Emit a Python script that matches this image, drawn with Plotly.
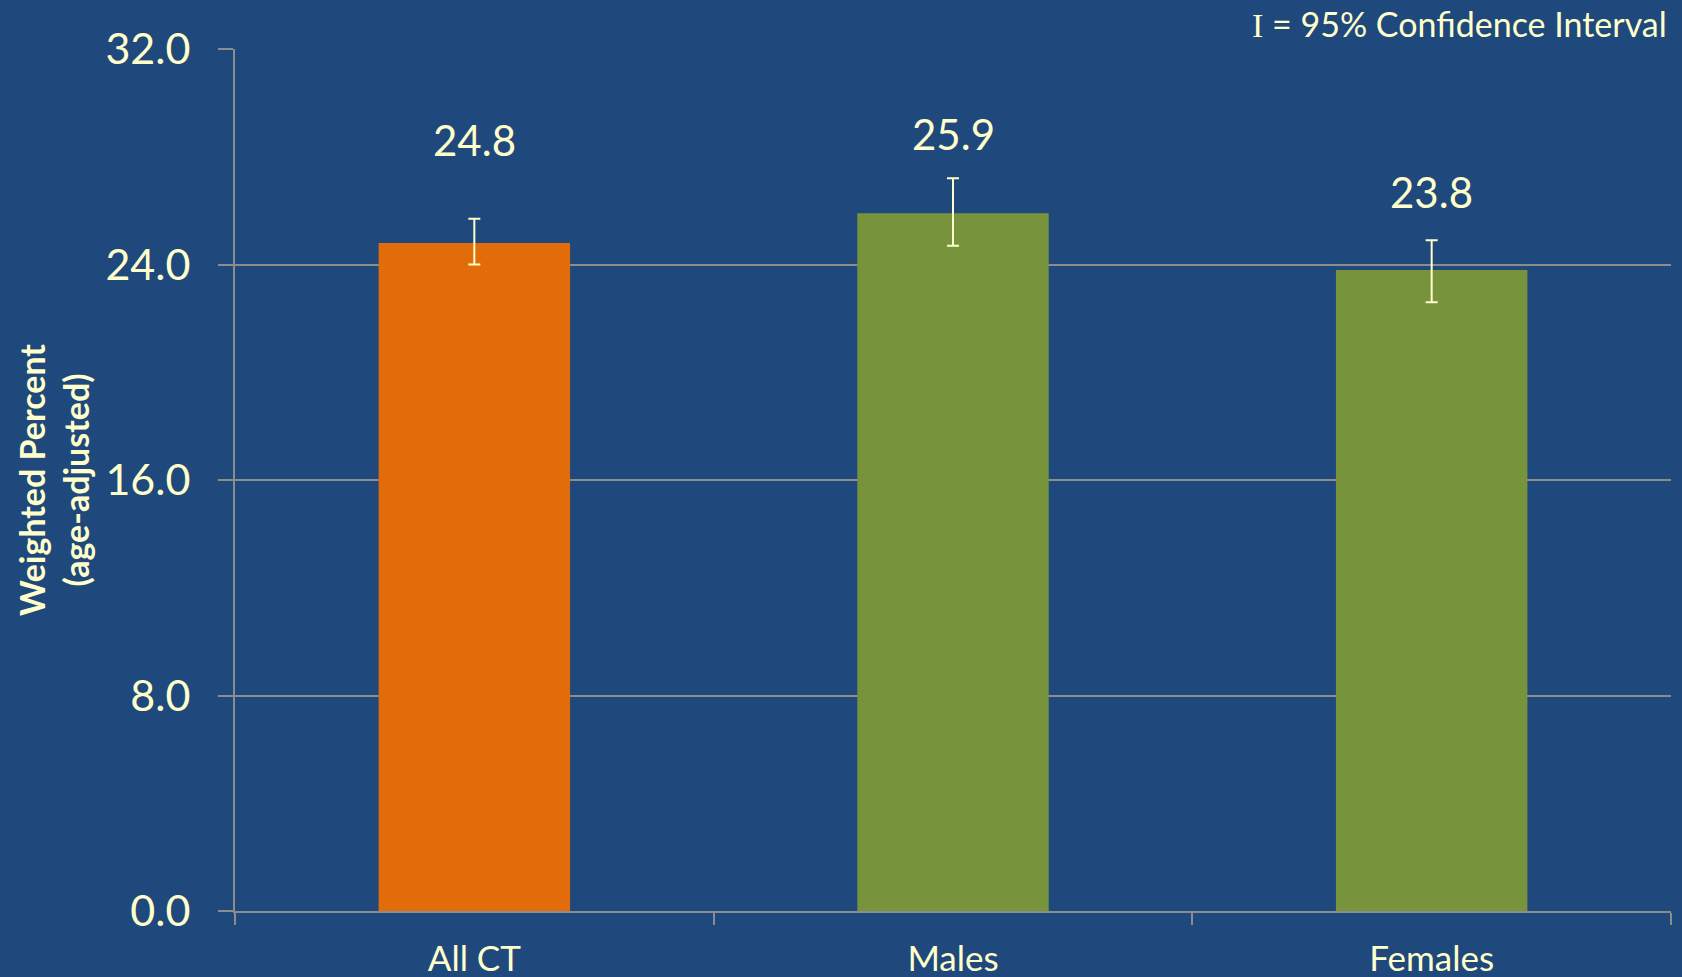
import plotly.graph_objects as go

categories = ["All CT", "Males", "Females"]
values = [24.8, 25.9, 23.8]
ci_low = [24.0, 24.7, 22.6]
ci_high = [25.7, 27.2, 24.9]
value_labels = ["24.8", "25.9", "23.8"]
y_ticks = [0, 8, 16, 24, 32]
y_tick_text = ["0.0", "8.0", "16.0", "24.0", "32.0"]

bar_colors = ["#E36C0A", "#77933C", "#77933C"]
label_shifts = [103, 79, 78]
BG = "#1F497D"
TXT = "#FFFFCC"
GRID = "#8C8C8C"
FONT = "Lato"

err_plus = [h - v for h, v in zip(ci_high, values)]
err_minus = [v - l for l, v in zip(ci_low, values)]

fig = go.Figure()
fig.add_trace(go.Bar(
    x=categories, y=values,
    marker=dict(color=bar_colors, line=dict(width=0)),
    error_y=dict(type="data", symmetric=False, array=err_plus, arrayminus=err_minus,
                 color=TXT, thickness=2, width=6),
    hoverinfo="skip",
))

for c, v, t, s in zip(categories, values, value_labels, label_shifts):
    fig.add_annotation(x=c, y=v, text=t, showarrow=False, yshift=s,
                       xanchor="center", yanchor="middle",
                       font=dict(family=FONT, size=42, color=TXT))

fig.add_annotation(
    xref="paper", yref="paper", x=0, y=0.5, xshift=-182,
    text="<b>Weighted Percent<br>(age-adjusted)</b>", textangle=-90,
    showarrow=False, xanchor="center", yanchor="middle",
    font=dict(family=FONT, size=34, color=TXT),
)

fig.add_annotation(
    xref="paper", yref="paper", x=1, y=1, xshift=-2, yshift=26,
    text='<span style="font-family:Liberation Serif">I</span> = 95% Confidence Interval',
    showarrow=False, xanchor="right", yanchor="middle",
    font=dict(family=FONT, size=34, color=TXT),
)

fig.update_layout(
    width=1682, height=977,
    paper_bgcolor=BG, plot_bgcolor=BG,
    margin=dict(l=235, r=11, t=49, b=66),
    bargap=0.6, showlegend=False,
    font=dict(family=FONT, color=TXT),
)
fig.update_xaxes(
    type="category", showgrid=False, showline=True, linecolor=GRID, linewidth=2,
    ticks="outside", tickson="boundaries", ticklen=12, tickcolor=GRID, tickwidth=2,
    ticklabelstandoff=16, automargin=False,
    tickfont=dict(family=FONT, size=35, color=TXT), fixedrange=True,
)
fig.update_yaxes(
    range=[0, 32], tickvals=y_ticks, ticktext=y_tick_text,
    showgrid=True, gridcolor=GRID, gridwidth=2,
    showline=True, linecolor=GRID, linewidth=2, zeroline=False,
    ticks="outside", ticklen=15, tickcolor=GRID, tickwidth=2,
    ticklabelstandoff=19, automargin=False,
    tickfont=dict(family=FONT, size=43, color=TXT), fixedrange=True,
)

fig.write_html("out.html", config={"displayModeBar": False},
               post_script="document.body.style.margin='0';document.body.style.overflow='hidden';")
